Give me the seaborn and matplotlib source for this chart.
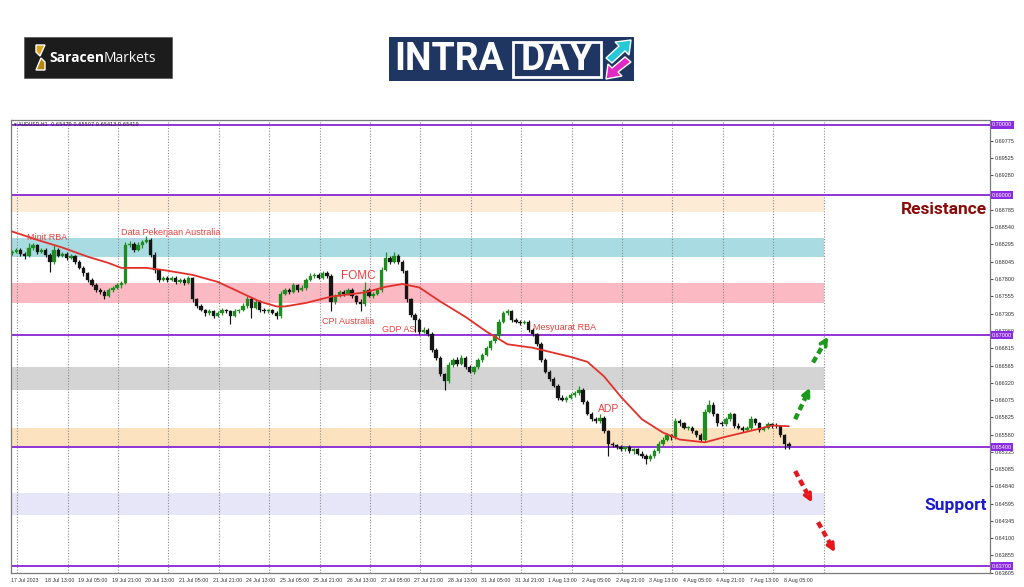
import numpy as np
import pandas as pd
import matplotlib
matplotlib.use('Agg')
import matplotlib.pyplot as plt
from matplotlib.patches import Rectangle, Polygon
import seaborn as sns

sns.set_style('white')
plt.rcParams['font.family'] = ['Liberation Sans', 'DejaVu Sans']

# ---- data (AUDUSD H1, aggregated to 2-hour candles) ----
first_open = 0.6817
closes = [
    0.6819, 0.6822, 0.6816, 0.6813, 0.6825, 0.6828, 0.6819, 0.6822, 0.6815, 0.6805, 0.6822, 0.6813,
    0.6816, 0.6810, 0.6813, 0.6805, 0.6796, 0.6788, 0.6779, 0.6772, 0.6765, 0.6762, 0.6756, 0.6765,
    0.6768, 0.6771, 0.6775, 0.6829, 0.6830, 0.6822, 0.6828, 0.6833, 0.6836, 0.6815, 0.6793, 0.6779,
    0.6782, 0.6779, 0.6782, 0.6776, 0.6779, 0.6775, 0.6781, 0.6751, 0.6742, 0.6736, 0.6731, 0.6734,
    0.6728, 0.6732, 0.6736, 0.6734, 0.6728, 0.6734, 0.6736, 0.6742, 0.6751, 0.6739, 0.6748, 0.6736,
    0.6734, 0.6736, 0.6732, 0.6728, 0.6759, 0.6765, 0.6762, 0.6771, 0.6765, 0.6768, 0.6779, 0.6785,
    0.6786, 0.6782, 0.6788, 0.6785, 0.6748, 0.6756, 0.6762, 0.6759, 0.6765, 0.6756, 0.6748, 0.6744,
    0.6765, 0.6756, 0.6759, 0.6765, 0.6793, 0.6810, 0.6805, 0.6813, 0.6805, 0.6791, 0.6751, 0.6729,
    0.6722, 0.6705, 0.6708, 0.6702, 0.6679, 0.6668, 0.6644, 0.6634, 0.6657, 0.6665, 0.6659, 0.6668,
    0.6654, 0.6648, 0.6654, 0.6665, 0.6672, 0.6682, 0.6691, 0.6699, 0.6719, 0.6731, 0.6734, 0.6722,
    0.6719, 0.6718, 0.6719, 0.6708, 0.6701, 0.6687, 0.6665, 0.6648, 0.6637, 0.6628, 0.6611, 0.6608,
    0.6611, 0.6614, 0.6617, 0.6622, 0.6605, 0.6588, 0.6580, 0.6577, 0.6582, 0.6563, 0.6545, 0.6543,
    0.6540, 0.6537, 0.6540, 0.6534, 0.6537, 0.6531, 0.6528, 0.6523, 0.6528, 0.6534, 0.6545, 0.6551,
    0.6557, 0.6554, 0.6577, 0.6574, 0.6568, 0.6568, 0.6563, 0.6557, 0.6551, 0.6591, 0.6601, 0.6587,
    0.6574, 0.6573, 0.6580, 0.6587, 0.6571, 0.6568, 0.6565, 0.6568, 0.6580, 0.6574, 0.6565, 0.6568,
    0.6573, 0.6571, 0.6570, 0.6557, 0.6545, 0.6542,
]
# wick lengths in pips
upper_wick = [
    2, 3, 2, 2, 7, 3, 2, 3, 2, 2, 6, 2,
    3, 2, 3, 2, 2, 3, 2, 2, 3, 2, 2, 3,
    2, 3, 3, 4, 4, 3, 5, 3, 6, 2, 3, 2,
    3, 2, 3, 2, 3, 2, 4, 2, 2, 3, 2, 3,
    2, 3, 3, 2, 2, 3, 2, 4, 5, 3, 4, 2,
    3, 2, 2, 3, 4, 3, 2, 3, 2, 3, 3, 4,
    3, 2, 3, 4, 2, 3, 3, 2, 3, 2, 2, 3,
    11, 2, 3, 3, 4, 9, 3, 5, 3, 2, 2, 2,
    3, 2, 4, 2, 2, 3, 2, 2, 5, 3, 4, 3,
    2, 3, 2, 3, 3, 3, 2, 3, 4, 3, 4, 2,
    3, 2, 3, 2, 2, 2, 3, 2, 2, 3, 2, 3,
    2, 3, 3, 5, 2, 3, 2, 3, 6, 2, 2, 3,
    2, 3, 2, 3, 2, 2, 3, 2, 3, 3, 4, 3,
    3, 2, 5, 3, 2, 3, 2, 2, 3, 4, 7, 3,
    2, 3, 3, 4, 2, 3, 2, 3, 4, 2, 2, 3,
    3, 2, 3, 2, 2, 3,
]
lower_wick = [
    3, 2, 3, 4, 2, 3, 3, 2, 3, 15, 3, 2,
    2, 3, 2, 3, 2, 3, 3, 2, 3, 3, 5, 2,
    3, 2, 3, 2, 3, 4, 2, 3, 2, 3, 4, 3,
    2, 3, 2, 3, 2, 3, 2, 4, 3, 2, 3, 2,
    3, 2, 3, 2, 12, 2, 3, 2, 3, 14, 2, 3,
    2, 3, 2, 5, 3, 2, 3, 2, 3, 2, 3, 2,
    3, 2, 2, 3, 14, 3, 2, 3, 2, 3, 3, 9,
    3, 2, 3, 2, 3, 2, 3, 2, 3, 3, 4, 3,
    18, 3, 2, 3, 3, 4, 3, 12, 3, 2, 3, 2,
    3, 2, 3, 2, 3, 2, 3, 2, 3, 2, 2, 3,
    2, 3, 2, 3, 2, 3, 3, 2, 3, 2, 3, 2,
    3, 2, 2, 3, 3, 2, 3, 2, 3, 3, 18, 2,
    3, 2, 3, 2, 3, 2, 3, 7, 2, 3, 2, 3,
    2, 3, 2, 3, 2, 3, 2, 3, 2, 3, 2, 3,
    3, 2, 3, 2, 3, 2, 3, 2, 3, 2, 3, 2,
    2, 3, 2, 3, 8, 4,
]

# moving average, sampled at some candles
ma_candle = [0, 6, 12, 18, 23, 26, 32, 36, 43, 49, 54, 59, 63, 65, 70, 76, 84, 89, 93,
             97, 102, 108, 113, 118, 124, 133, 137, 141, 145, 150, 155, 159, 165, 170,
             177, 181, 185]
ma_price = [0.6848, 0.6836, 0.6825, 0.6812, 0.6803, 0.6796, 0.6796, 0.6793, 0.6786,
            0.6776, 0.6762, 0.6748, 0.6741, 0.6741, 0.6746, 0.6755, 0.6761, 0.6769,
            0.6773, 0.6768, 0.6748, 0.6726, 0.6705, 0.6687, 0.6682, 0.6669, 0.6662,
            0.6641, 0.6612, 0.6580, 0.6561, 0.6551, 0.6547, 0.6555, 0.6565, 0.6571,
            0.6570]

levels = [0.70000, 0.69000, 0.67000, 0.65400, 0.63700]
level_labels = ['0.70000', '0.69000', '0.67000', '0.65400', '0.63700']

zone_low = [0.6876, 0.6811, 0.6746, 0.6622, 0.6540, 0.6444]
zone_high = [0.6898, 0.6838, 0.6774, 0.6655, 0.6567, 0.6475]
zone_colors = ['#fdebd6', '#a9dbe2', '#fbb9c3', '#d4d4d4', '#fde2c0', '#e6e6f8']

price_ticks = [0.69775, 0.69525, 0.69280, 0.68785, 0.68540, 0.68295, 0.68045, 0.67800,
               0.67555, 0.67305, 0.67060, 0.66815, 0.66565, 0.66320, 0.66075, 0.65825,
               0.65580, 0.65335, 0.65085, 0.64840, 0.64595, 0.64345, 0.64100, 0.63855,
               0.63605]
price_tick_labels = ['%.5f' % p for p in price_ticks]

time_labels = ['17 Jul 2023', '18 Jul 13:00', '19 Jul 05:00', '19 Jul 21:00', '20 Jul 13:00',
               '21 Jul 05:00', '21 Jul 21:00', '24 Jul 13:00', '25 Jul 05:00', '25 Jul 21:00',
               '26 Jul 13:00', '27 Jul 05:00', '27 Jul 21:00', '28 Jul 13:00', '31 Jul 05:00',
               '31 Jul 21:00', '1 Aug 13:00', '2 Aug 05:00', '2 Aug 21:00', '3 Aug 13:00',
               '4 Aug 05:00', '4 Aug 21:00', '7 Aug 13:00', '8 Aug 05:00']

events = [('Minit RBA', 7.8, 0.6839, 6.5),
          ('Data Pekerjaan Australia', 52.5, 0.6846, 6.5),
          ('FOMC', 157.3, 0.6785, 8.5),
          ('CPI Australia', 148.2, 0.6719, 6.5),
          ('GDP AS', 176.8, 0.6708, 6.5),
          ('Mesyuarat RBA', 248.7, 0.6711, 6.5),
          ('ADP', 279.7, 0.6594, 7.5)]

# scenario arrows (hour index, price)
up_arrows = [(373.5, 0.6580, 380.6, 0.6625), (382.0, 0.6661, 389.2, 0.6698)]
down_arrows = [(373.5, 0.6506, 381.6, 0.6461), (384.4, 0.6433, 392.5, 0.6390)]

# ---- build candles ----
df = pd.DataFrame({'close': closes, 'up_w': upper_wick, 'lo_w': lower_wick})
df['open'] = [first_open] + closes[:-1]
df['x'] = df.index * 2 + 0.5
df['top'] = df[['open', 'close']].max(axis=1)
df['bot'] = df[['open', 'close']].min(axis=1)
df['high'] = df['top'] + df['up_w'] * 1e-4
df['low'] = df['bot'] - df['lo_w'] * 1e-4
df['color'] = np.where(df['close'] >= df['open'], '#1e8c1e', '#151515')

fig = plt.figure(figsize=(10.24, 5.87), dpi=100)
ax = fig.add_axes([11 / 1024, 1 - 573 / 587, 979 / 1024, 453 / 587])
x0, x1 = 0.14, 466.3
ax.set_xlim(x0, x1)
ax.set_ylim(0.63614, 0.70071)

zone_end = 387
for lo, hi, c in zip(zone_low, zone_high, zone_colors):
    ax.fill_between([x0, zone_end], lo, hi, color=c, lw=0, zorder=0)

for d in np.arange(3, zone_end + 1, 24):
    ax.axvline(d, color='#8c8c8c', lw=0.8, ls=(0, (1, 1.5)), zorder=1)

for lv in levels:
    ax.axhline(lv, color='#9034d6', lw=1.4, zorder=2)

ax.vlines(df['x'], df['low'], df['high'], colors=df['color'], lw=0.85, zorder=3)
ax.bar(df['x'], (df['top'] - df['bot']).clip(lower=0.00004), bottom=df['bot'], width=1.6,
       color=df['color'], edgecolor=df['color'], lw=0.2, zorder=4)

ma_df = pd.DataFrame({'x': np.array(ma_candle) * 2 + 0.5, 'ma': ma_price})
sns.lineplot(data=ma_df, x='x', y='ma', ax=ax, color='#e2312b', lw=1.3, zorder=5)

for txt, hx, py, fs in events:
    ax.text(hx, py, txt, color='#ee4040', fontsize=fs, va='center', ha='left', zorder=6)

for arrows, c in [(up_arrows, '#1d9a1d'), (down_arrows, '#e5161c')]:
    for ax0, ay0, ax1, ay1 in arrows:
        ax.plot([ax0, ax0 + 0.8 * (ax1 - ax0)], [ay0, ay0 + 0.8 * (ay1 - ay0)], color=c, lw=3.2,
                ls=(0, (1.4, 0.9)), solid_capstyle='butt', zorder=6)
        ax.annotate('', xy=(ax1, ay1), xytext=(ax0 + 0.8 * (ax1 - ax0), ay0 + 0.8 * (ay1 - ay0)),
                    arrowprops=dict(arrowstyle='->', color=c, lw=2.6, mutation_scale=11,
                                    shrinkA=0, shrinkB=0), zorder=6)

ax.text(0.003, 0.997, '\u25be AUDUSD,H1  0.65479 0.65507 0.65413 0.65419', transform=ax.transAxes,
        fontsize=3.6, va='top', ha='left', color='#222', family=['DejaVu Sans'])

ax.text(0.997, 0.6880, 'Resistance', transform=ax.get_yaxis_transform(), ha='right', va='center',
        fontsize=12.5, fontweight='bold', color='#8b0a0a', family=['Roboto', 'DejaVu Sans'])
ax.text(0.9965, 0.6457, 'Support', transform=ax.get_yaxis_transform(), ha='right', va='center',
        fontsize=12.5, fontweight='bold', color='#1a1ad2', family=['Roboto', 'DejaVu Sans'])

# axes cosmetics
ax.yaxis.tick_right()
ax.set_yticks(price_ticks, labels=price_tick_labels)
ax.set_xticks(np.arange(0, 16 * len(time_labels), 16), labels=time_labels)
ax.tick_params(axis='y', length=2, labelsize=4, pad=1.5, colors='#555', labelcolor='#333')
ax.tick_params(axis='x', length=2, labelsize=3.8, pad=1.5, colors='#555', labelcolor='#333')
for lbl in ax.get_xticklabels():
    lbl.set_ha('left')
ax.set_xlabel('')
ax.set_ylabel('')
for s in ax.spines.values():
    s.set_color('#7a7a7a')
    s.set_linewidth(0.9)

for lv, lab in zip(levels, level_labels):
    ax.text(1.002, lv, lab, transform=ax.get_yaxis_transform(), fontsize=4, color='white',
            va='center', ha='left', zorder=10, clip_on=False,
            bbox=dict(boxstyle='square,pad=0.25', fc='#8a2be2', ec='none'))

# ---- header logos ----
hdr = fig.add_axes([0, 1 - 110 / 587, 1, 110 / 587])
hdr.set_xlim(0, 1024)
hdr.set_ylim(110, 0)
hdr.axis('off')

hdr.add_patch(Rectangle((24, 37), 148, 41, fc='#1c1c1c', ec='#555', lw=0.5))
hdr.add_patch(Polygon([[36, 45], [45, 45], [40, 56], [36, 52]], closed=True, fc='#d9a520'))
hdr.add_patch(Polygon([[41, 58], [45, 62], [45, 70], [36, 70]], closed=True, fc='#b8860b'))
t1 = hdr.text(49, 58, 'Saracen', color='white', fontsize=10, fontweight='bold', va='center',
              family=['Open Sans', 'DejaVu Sans'])
fig.canvas.draw()
bb = t1.get_window_extent()
xe = hdr.transData.inverted().transform((bb.x1, bb.y0))[0]
hdr.text(xe, 58, 'Markets', color='white', fontsize=10, va='center',
         family=['Open Sans', 'DejaVu Sans'])

hdr.add_patch(Rectangle((389, 37), 245, 44, fc='#1f3562', ec='none'))
hdr.text(394, 60, 'INTRA', color='white', fontsize=27, fontweight='bold', va='center',
         family=['Roboto', 'DejaVu Sans'])
hdr.add_patch(Rectangle((513, 41.5), 88, 35, fill=False, ec='white', lw=2))
hdr.text(557, 60, 'DAY', color='white', fontsize=27, fontweight='bold', va='center', ha='center',
         family=['Roboto', 'DejaVu Sans'])
hdr.add_patch(Polygon([[606, 58], [619, 46], [615, 42], [631, 40], [629, 55], [625, 51],
                       [612, 63]], closed=True, fc='#27c8d8'))
hdr.add_patch(Polygon([[631, 62], [618, 72], [622, 76], [606, 79], [608, 64], [612, 68],
                       [625, 57]], closed=True, fc='#e12ac4'))

fig.savefig('out.png', dpi=100)
